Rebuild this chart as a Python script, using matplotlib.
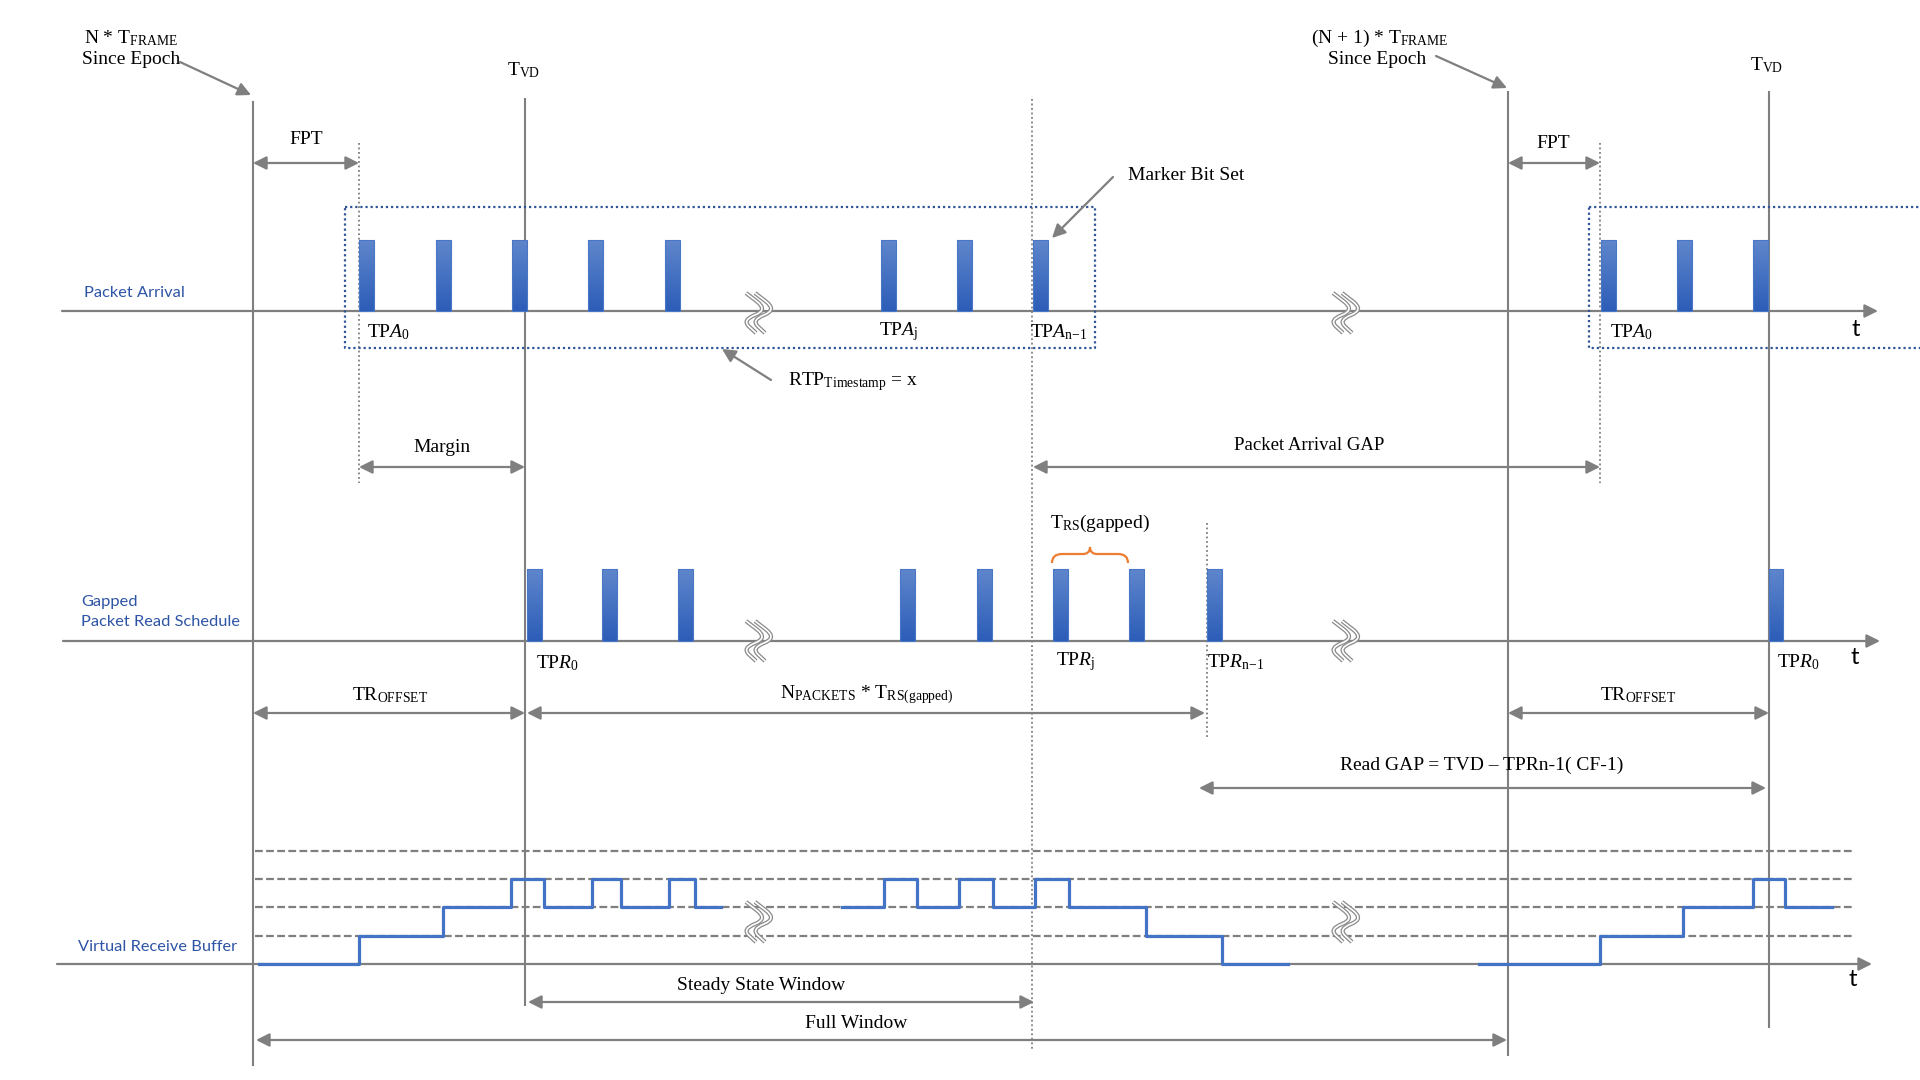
import matplotlib
matplotlib.use('Agg')
import matplotlib.pyplot as plt
import numpy as np
from matplotlib.path import Path
from matplotlib.patches import PathPatch, Rectangle
from matplotlib.colors import LinearSegmentedColormap

plt.rcParams['font.family'] = ['Liberation Serif', 'DejaVu Serif']
plt.rcParams['mathtext.fontset'] = 'custom'
plt.rcParams['mathtext.rm'] = 'Liberation Serif'
plt.rcParams['mathtext.it'] = 'Liberation Serif:italic'
plt.rcParams['mathtext.bf'] = 'Liberation Serif:bold'

# ---- diagram data (time positions along the canvas) ----
row_y = [311, 641, 964]                 # baseline of each timeline
row_start = [62, 63, 57]
row_end = [1878, 1880, 1872]
bar_top = [240, 569]
arrival_x = [359, 436, 512, 588, 665, 881, 957, 1033, 1601, 1677, 1753]
read_x = [527, 602, 678, 900, 977, 1053, 1129, 1207, 1769]
bar_w = 15
break_x = [758, 1345]
break_y = [313, 641, 922]

epoch_x = [253, 1508]
epoch_top = [102, 92]
epoch_bottom = [1065, 1055]
tvd_x = [525, 1769]
tvd_top = [99, 92]
tvd_bottom = [1005, 1027]

# virtual receive buffer (step x, buffer level)
level_gap = 28.3
buf_levels = [1, 2, 3, 4]
seg_x = [[259, 359, 443, 511, 544, 592, 621, 669, 695, 721],
         [842, 884, 917, 959, 993, 1035, 1069, 1146, 1222, 1288],
         [1479, 1600, 1683, 1753, 1785, 1832]]
seg_lv = [[0, 1, 2, 3, 2, 3, 2, 3, 2, 2],
          [2, 3, 2, 3, 2, 3, 2, 1, 0, 0],
          [0, 1, 2, 3, 2, 2]]

GRAY = '#7F7F7F'
BLUE = '#4472C4'
LBLUE = '#2E54A6'

fig = plt.figure(figsize=(19.2, 10.8), dpi=100)
ax = fig.add_axes([0, 0, 1, 1])
ax.set_xlim(0, 1920)
ax.set_ylim(1080, 0)
ax.axis('off')

grad = LinearSegmentedColormap.from_list('g', ['#5F86CC', '#2C5DB8'])
gimg = np.linspace(0, 1, 64).reshape(-1, 1)


def bar(x, top, base, w=bar_w):
    ax.imshow(gimg, cmap=grad, extent=(x, x + w, base, top), origin='upper',
              aspect='auto', interpolation='bilinear', zorder=4)
    ax.add_patch(Rectangle((x, top), w, base - top, fill=False, ec='#4A76C6', lw=0.8, zorder=5))


def harrow(x0, x1, y, style='<|-|>'):
    ax.annotate('', xy=(x1, y), xytext=(x0, y),
                arrowprops=dict(arrowstyle=style, color=GRAY, lw=1.6,
                                mutation_scale=20, shrinkA=0, shrinkB=0), zorder=3)


def break_mark(cx, cy):
    # zig-zag "lightning" double line, drawn hollow
    pts = [(-12, -20), (10, -3), (-16, 7), (-2, 20)]
    for dx in (0, 9):
        p0, p1, p2, p3 = [(cx + px + dx, cy + py) for px, py in pts]
        m01 = ((p0[0] + p1[0]) / 2, (p0[1] + p1[1]) / 2)
        m12 = ((p1[0] + p2[0]) / 2, (p1[1] + p2[1]) / 2)
        m23 = ((p2[0] + p3[0]) / 2, (p2[1] + p3[1]) / 2)
        verts = [p0, m01, p1, m12, p2, m23, p3]
        codes = [Path.MOVETO, Path.LINETO, Path.CURVE3, Path.CURVE3,
                 Path.CURVE3, Path.CURVE3, Path.LINETO]
        p = Path(verts, codes)
        ax.add_patch(PathPatch(p, fill=False, ec='#8A8A8A', lw=3.0, zorder=6))
        ax.add_patch(PathPatch(p, fill=False, ec='white', lw=1.2, zorder=7))


# timelines
for y, x0, x1 in zip(row_y, row_start, row_end):
    harrow(x0, x1, y, '-|>')

# vertical reference lines
for x, t, b in zip(epoch_x, epoch_top, epoch_bottom):
    ax.plot([x, x], [t, b], color=GRAY, lw=1.5, zorder=2)
for x, t, b in zip(tvd_x, tvd_top, tvd_bottom):
    ax.plot([x, x], [t, b], color=GRAY, lw=1.5, zorder=2)
for x, t, b in [(359, 143, 483), (1600, 143, 483), (1032, 99, 1051), (1207, 523, 737)]:
    ax.plot([x, x], [t, b], color=GRAY, lw=1.3, ls=(0, (1, 1.5)), zorder=2)

# dotted packet group boxes
for x0, x1 in [(345, 1095), (1589, 1925)]:
    ax.plot([x0, x1, x1, x0, x0], [207, 207, 348, 348, 207], color='#2F5597',
            lw=1.6, ls=(0, (1, 1.3)), zorder=3, clip_on=True)

# packets
for x in arrival_x:
    bar(x, bar_top[0], row_y[0])
for x in read_x:
    bar(x, bar_top[1], row_y[1], 15 if x != read_x[-1] else 14)

# buffer levels
for lv in buf_levels:
    y = row_y[2] - lv * level_gap
    ax.plot([255, 1853], [y, y], color=GRAY, lw=1.6, ls=(0, (3.5, 1.5)), zorder=2)
for xs, lvs in zip(seg_x, seg_lv):
    ys = [row_y[2] - l * level_gap for l in lvs]
    ax.plot(xs, ys, drawstyle='steps-post', color=BLUE, lw=2.3, zorder=5)

for bx in break_x:
    for by in break_y:
        break_mark(bx, by)

# dimension arrows
harrow(253, 359, 163)
harrow(1508, 1600, 163)
harrow(359, 525, 467)
harrow(1033, 1600, 467)
harrow(253, 525, 713)
harrow(527, 1205, 713)
harrow(1508, 1769, 713)
harrow(1199, 1766, 788)
harrow(528, 1034, 1002)
harrow(256, 1507, 1040)

# pointer arrows
for (x0, y0), (x1, y1) in [((180, 62), (251, 95)), ((1436, 56), (1507, 88)),
                           ((1113, 177), (1052, 238)), ((771, 380), (722, 349))]:
    ax.annotate('', xy=(x1, y1), xytext=(x0, y0),
                arrowprops=dict(arrowstyle='-|>', color=GRAY, lw=1.6,
                                mutation_scale=20, shrinkA=0, shrinkB=0))

# orange brace
bv = [(1052, 563), (1052, 554), (1062, 554), (1083, 554), (1090, 554), (1090, 547),
      (1090, 554), (1097, 554), (1118, 554), (1128, 554), (1128, 563)]
bc = [Path.MOVETO, Path.CURVE3, Path.CURVE3, Path.LINETO, Path.CURVE3, Path.CURVE3,
      Path.CURVE3, Path.CURVE3, Path.LINETO, Path.CURVE3, Path.CURVE3]
ax.add_patch(PathPatch(Path(bv, bc), fill=False, ec='#ED7D31', lw=1.6, zorder=5))

# text
fs = 14
def txt(x, y, s, ha='center', **kw):
    kw.setdefault('fontsize', fs)
    ax.text(x, y, s, ha=ha, va='center', **kw)

txt(131, 38, r'N * T$_{\mathrm{FRAME}}$')
txt(131, 60, 'Since Epoch')
txt(1380, 38, r'(N + 1) * T$_{\mathrm{FRAME}}$')
txt(1377, 60, 'Since Epoch')
txt(524, 70, r'T$_{\mathrm{VD}}$')
txt(1767, 65, r'T$_{\mathrm{VD}}$')
txt(306, 140, 'FPT')
txt(1553, 143, 'FPT')
txt(1128, 176, 'Marker Bit Set', ha='left')
txt(367, 332, r'TP$\mathit{A}_0$', ha='left')
txt(879, 332, r'TP$\mathit{A}_{\mathrm{j}}$', ha='left')
txt(1030, 332, r'TP$\mathit{A}_{\mathrm{n}\!-\!\mathrm{1}}$', ha='left')
txt(1610, 332, r'TP$\mathit{A}_0$', ha='left')
txt(788, 382, r'RTP$_{\mathrm{Timestamp}}$ = x', ha='left')
txt(442, 448, 'Margin')
txt(1309, 445, 'Packet Arrival GAP', fontsize=13.5)
txt(1050, 523, r'T$_{\mathrm{RS}}$(gapped)', ha='left')
txt(536, 663, r'TP$\mathit{R}_0$', ha='left')
txt(1056, 662, r'TP$\mathit{R}_{\mathrm{j}}$', ha='left')
txt(1207, 662, r'TP$\mathit{R}_{\mathrm{n}\!-\!\mathrm{1}}$', ha='left')
txt(1777, 662, r'TP$\mathit{R}_0$', ha='left')
txt(390, 695, r'TR$_{\mathrm{OFFSET}}$')
txt(1638, 695, r'TR$_{\mathrm{OFFSET}}$')
txt(867, 695, r'N$_{\mathrm{PACKETS}}$ * T$_{\mathrm{RS(gapped)}}$')
txt(1482, 765, 'Read GAP = TVD \u2013 TPRn-1( CF-1)')
txt(761, 985, 'Steady State Window')
txt(856, 1023, 'Full Window')

sans = ['Lato', 'DejaVu Sans']
txt(84, 293, 'Packet Arrival', ha='left', color=LBLUE, family=sans, fontsize=11.8)
txt(81, 602, 'Gapped', ha='left', color=LBLUE, family=sans, fontsize=11.8)
txt(81, 622, 'Packet Read Schedule', ha='left', color=LBLUE, family=sans, fontsize=11.8)
txt(78, 947, 'Virtual Receive Buffer', ha='left', color=LBLUE, family=sans, fontsize=11.8)
for x, y in [(1856, 330), (1855, 658), (1853, 980)]:
    txt(x, y, 't', family=sans, fontsize=17)

fig.savefig('out.png', dpi=100)
